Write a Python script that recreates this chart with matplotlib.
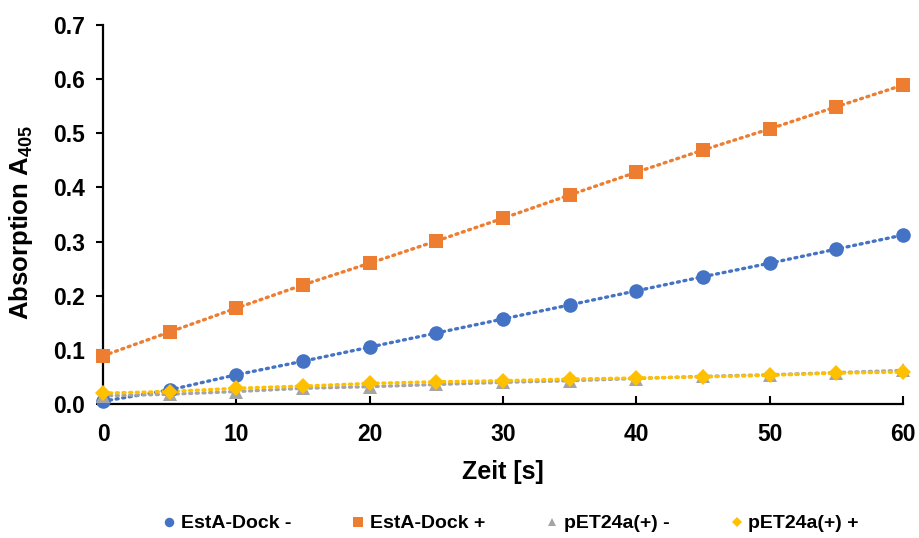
import matplotlib.pyplot as plt

plt.rcParams['font.family'] = ['Liberation Sans', 'DejaVu Sans']
plt.rcParams['font.weight'] = 'bold'
plt.rcParams['mathtext.fontset'] = 'custom'
plt.rcParams['mathtext.bf'] = 'Liberation Sans:bold'

zeit = [0, 5, 10, 15, 20, 25, 30, 35, 40, 45, 50, 55, 60]
esta_minus = [0.005, 0.026, 0.054, 0.079, 0.105, 0.131, 0.157, 0.183, 0.209, 0.235, 0.260, 0.286, 0.312]
esta_plus = [0.089, 0.133, 0.177, 0.220, 0.260, 0.301, 0.343, 0.386, 0.428, 0.469, 0.508, 0.549, 0.589]
pet_minus = [0.015, 0.018, 0.023, 0.029, 0.032, 0.036, 0.040, 0.043, 0.047, 0.051, 0.054, 0.058, 0.062]
pet_plus = [0.020, 0.023, 0.029, 0.033, 0.038, 0.041, 0.043, 0.046, 0.048, 0.050, 0.053, 0.057, 0.059]

labels = ['EstA-Dock -', 'EstA-Dock +', 'pET24a(+) -', 'pET24a(+) +']
colors = ['#4472C4', '#ED7D31', '#A5A5A5', '#FFC000']
markers = ['o', 's', '^', 'D']
sizes = [10.5, 10.5, 9.5, 8.5]

fig = plt.figure(figsize=(9.19, 5.38), dpi=100)
ax = fig.add_axes([0.1121, 0.2491, 0.8705, 0.7045])

for ys, lab, c, m, s in zip([esta_minus, esta_plus, pet_minus, pet_plus], labels, colors, markers, sizes):
    ax.plot(zeit, ys, color=c, linestyle=(0, (0.6, 1.4)), linewidth=2.4,
            dash_capstyle='round', clip_on=False, zorder=2)
    ax.plot(zeit, ys, color=c, linestyle='none', marker=m, markersize=s,
            markeredgewidth=0, clip_on=False, zorder=3, label=lab)

ax.set_xlim(0, 60)
ax.set_ylim(0, 0.7)
ax.set_xticks(range(0, 61, 10))
ax.set_yticks([0.0, 0.1, 0.2, 0.3, 0.4, 0.5, 0.6, 0.7])
ax.set_yticklabels([f'{v:.1f}' for v in ax.get_yticks()])

for side in ['top', 'right']:
    ax.spines[side].set_visible(False)
for side in ['left', 'bottom']:
    ax.spines[side].set_linewidth(1.6)
    ax.spines[side].set_color('black')

ax.tick_params(axis='x', direction='in', length=6, width=1.5, labelsize=16.5, pad=14)
ax.tick_params(axis='y', direction='out', length=5, width=1.5, labelsize=16.5, pad=8)

ax.set_xlabel('Zeit [s]', fontsize=18, fontweight='bold', labelpad=10)
ax.set_ylabel('Absorption A$_{\\mathbf{405}}$', fontsize=18.5, fontweight='bold')
ax.yaxis.set_label_coords(-0.085, 0.478)

fig.legend(loc='lower center', bbox_to_anchor=(0.556, -0.022), ncol=4, frameon=False,
           markerscale=0.65, handlelength=0.6, handletextpad=0.3,
           columnspacing=3.15, prop={'weight': 'bold', 'size': 14})

fig.savefig('out.png', dpi=100, facecolor='white')
